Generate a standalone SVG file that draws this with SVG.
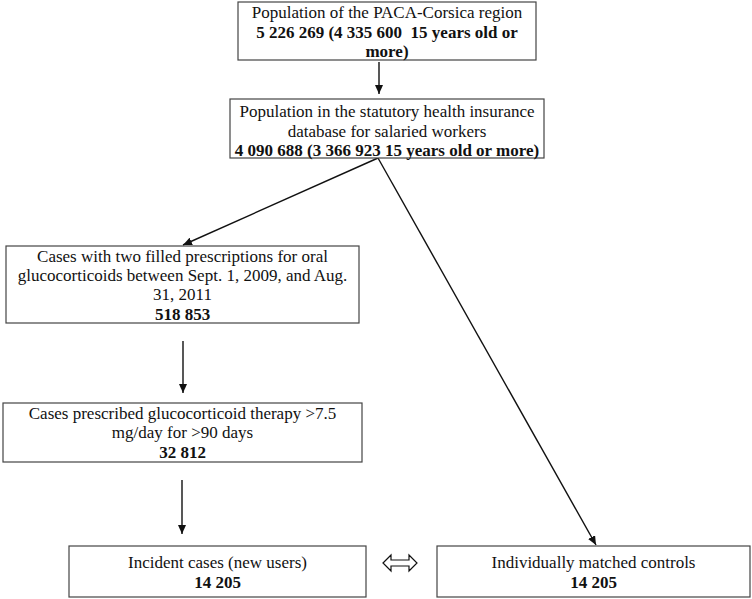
<svg xmlns="http://www.w3.org/2000/svg" width="752" height="599" viewBox="0 0 752 599">
<defs>
<style>
.box{fill:#fff;stroke:#444;stroke-width:1.2}
.t{font-family:"Liberation Serif","Times New Roman",serif;font-size:17px;fill:#111;text-anchor:middle}
.b{font-weight:bold}
.pre{white-space:pre}
.c{stroke:#111;stroke-width:1.4;fill:none}
</style>
<marker id="ah" viewBox="0 0 10 10" refX="10" refY="5" markerWidth="9" markerHeight="8" orient="auto" markerUnits="userSpaceOnUse" preserveAspectRatio="none">
<path d="M0,0 L10,5 L0,10 z" fill="#111"/>
</marker>
</defs>
<rect width="752" height="599" fill="#fff"/>
<g id="connectors">
<line class="c" x1="379" y1="62" x2="379" y2="94" marker-end="url(#ah)"/>
<line class="c" x1="378" y1="158" x2="183" y2="245" marker-end="url(#ah)"/>
<line class="c" x1="378" y1="158" x2="596" y2="545" marker-end="url(#ah)"/>
<line class="c" x1="183" y1="341" x2="183" y2="393" marker-end="url(#ah)"/>
<line class="c" x1="182" y1="480" x2="182" y2="534" marker-end="url(#ah)"/>
<path d="M383,563 L391,555 L391,560 L409,560 L409,555 L417,563 L409,571 L409,566 L391,566 L391,571 Z" fill="#fff" stroke="#111" stroke-width="1.2"/>
</g>
<g id="n1">
<rect class="box" x="238" y="2" width="298" height="58"/>
<text class="t" x="387" y="18">Population of the PACA-Corsica region</text>
<text class="t b pre" x="387" y="37.5" xml:space="preserve">5 226 269 (4 335 600  15 years old or</text>
<text class="t b" x="387" y="57">more)</text>
</g>
<g id="n2">
<rect class="box" x="230" y="99" width="314" height="59"/>
<text class="t" x="387" y="117">Population in the statutory health insurance</text>
<text class="t" x="387" y="136.5">database for salaried workers</text>
<text class="t b" x="387" y="156">4 090 688 (3 366 923 15 years old or more)</text>
</g>
<g id="n3">
<rect class="box" x="6" y="246" width="353" height="77"/>
<text class="t" x="182.5" y="262">Cases with two filled prescriptions for oral</text>
<text class="t" x="182.5" y="281">glucocorticoids between Sept. 1, 2009, and Aug.</text>
<text class="t" x="182.5" y="300">31, 2011</text>
<text class="t b" x="182.5" y="319.5">518 853</text>
</g>
<g id="n4">
<rect class="box" x="3" y="403" width="359" height="59"/>
<text class="t" x="182.5" y="419">Cases prescribed glucocorticoid therapy &gt;7.5</text>
<text class="t" x="182.5" y="438">mg/day for &gt;90 days</text>
<text class="t b" x="182.5" y="457.5">32 812</text>
</g>
<g id="n5">
<rect class="box" x="69" y="546" width="297" height="51"/>
<text class="t" x="217.5" y="568">Incident cases (new users)</text>
<text class="t b" x="217.5" y="588">14 205</text>
</g>
<g id="n6">
<rect class="box" x="437" y="546" width="313" height="51"/>
<text class="t" x="593.5" y="568">Individually matched controls</text>
<text class="t b" x="593.5" y="588">14 205</text>
</g>
</svg>
